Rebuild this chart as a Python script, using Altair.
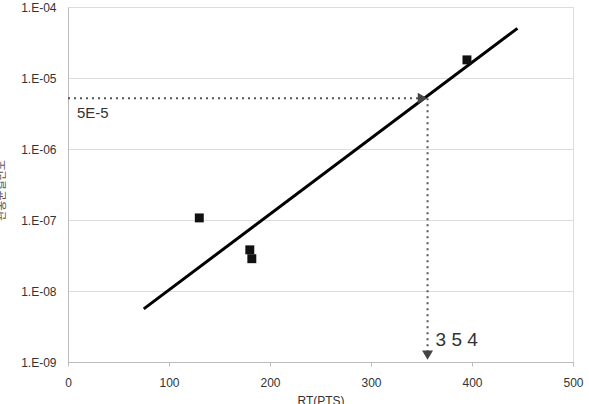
import altair as alt
import pandas as pd

# data
pts_x = [130, 180, 182, 395]
pts_y = [1.07e-7, 3.8e-8, 2.85e-8, 1.8e-5]

fit_x = [75, 445]
fit_y = [5.6e-9, 5.0e-5]

target_y = 5.2e-6
target_x = 354
y_min, y_max = 1e-9, 1e-4
x_min, x_max = 0, 500
x_ticks = [0, 100, 200, 300, 400, 500]
y_ticks = [1e-9, 1e-8, 1e-7, 1e-6, 1e-5, 1e-4]

FONT = "Liberation Sans"

xs = alt.Scale(domain=[x_min, x_max], nice=False)
ys = alt.Scale(type="log", domain=[y_min, y_max], nice=False)

xax = alt.Axis(values=x_ticks, grid=False, title="RT(PTS)", labelFontSize=12,
               labelColor="#333", titleFontSize=12, titleFont=FONT, labelFont=FONT,
               titleFontWeight="normal", titleColor="#333", domainColor="#bbb",
               tickColor="#bbb", tickSize=4, labelPadding=11, titlePadding=7,
               labelFlush=False)
yax = alt.Axis(values=y_ticks, grid=True, gridColor="#dcdcdc", title="관통균열빈도",
               labelExpr="'1.E-0' + round(-log(datum.value)/LN10)",
               labelFontSize=12, labelColor="#333", labelFont=FONT,
               titleFont="Noto Sans CJK KR", titleFontSize=11, titleFontWeight="normal",
               titleColor="#555", domainColor="#bbb", ticks=False, labelPadding=12,
               titleX=-62, titleY=183)

pts = pd.DataFrame({"x": pts_x, "y": pts_y})
fit = pd.DataFrame({"x": fit_x, "y": fit_y})
hline = pd.DataFrame({"x": [x_min, target_x - 3], "y": [target_y, target_y]})
vline = pd.DataFrame({"x": [target_x + 2, target_x + 2], "y": [target_y, 1.3e-9]})

base_fit = alt.Chart(fit).mark_line(color="#000", strokeWidth=3).encode(
    x=alt.X("x:Q", scale=xs, axis=xax),
    y=alt.Y("y:Q", scale=ys, axis=yax),
)
sq = alt.Chart(pts).mark_square(color="#111", size=80, opacity=1).encode(
    x=alt.X("x:Q", scale=xs), y=alt.Y("y:Q", scale=ys))
h = alt.Chart(hline).mark_line(color="#555", strokeWidth=2, strokeDash=[2, 4]).encode(
    x=alt.X("x:Q", scale=xs), y=alt.Y("y:Q", scale=ys))
v = alt.Chart(vline).mark_line(color="#555", strokeWidth=2, strokeDash=[2, 4]).encode(
    x=alt.X("x:Q", scale=xs), y=alt.Y("y:Q", scale=ys))
arr_r = alt.Chart(pd.DataFrame({"x": [target_x - 3], "y": [target_y]})).mark_point(
    shape="triangle-right", filled=True, color="#444", size=120, opacity=1).encode(
    x=alt.X("x:Q", scale=xs), y=alt.Y("y:Q", scale=ys))
arr_d = alt.Chart(pd.DataFrame({"x": [target_x + 2], "y": [1.25e-9]})).mark_point(
    shape="triangle-down", filled=True, color="#444", size=120, opacity=1).encode(
    x=alt.X("x:Q", scale=xs), y=alt.Y("y:Q", scale=ys))
lab_y = alt.Chart(pd.DataFrame({"x": [x_min], "y": [target_y], "t": ["5E-5"]})).mark_text(
    align="left", baseline="middle", dx=9, dy=15, fontSize=15, font=FONT, color="#333").encode(
    x=alt.X("x:Q", scale=xs), y=alt.Y("y:Q", scale=ys), text="t:N")
lab_x = alt.Chart(pd.DataFrame({"x": [target_x], "y": [1.9e-9], "t": ["3 5 4"]})).mark_text(
    align="left", baseline="middle", dx=10, dy=-2, fontSize=19, font=FONT, color="#333").encode(
    x=alt.X("x:Q", scale=xs), y=alt.Y("y:Q", scale=ys), text="t:N")

chart = alt.layer(base_fit, sq, h, v, arr_r, arr_d, lab_y, lab_x).properties(
    width=505, height=355,
    autosize=alt.AutoSizeParams(type="none"),
    padding={"left": 68, "top": 7, "right": 16, "bottom": 42},
).configure_view(stroke=None).configure(background="white")

chart.save("out.html", embed_options={"renderer": "svg", "actions": False})
